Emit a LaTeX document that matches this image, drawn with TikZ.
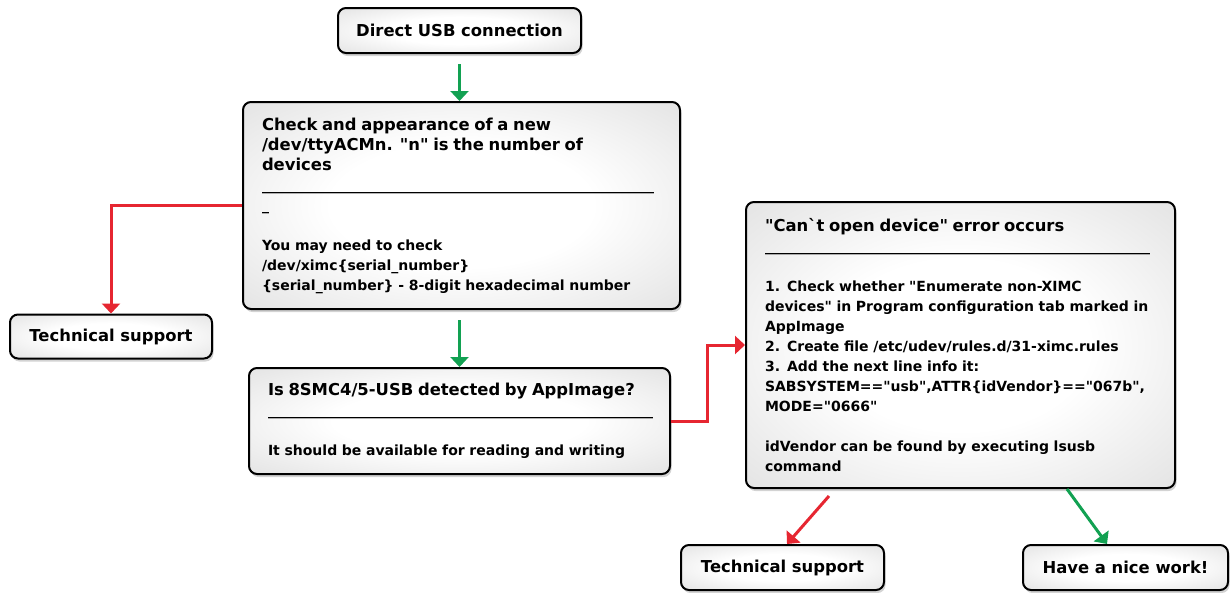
\documentclass[tikz,border=0pt]{standalone}
\usepackage{fontspec}
\setmonofont{DejaVu Sans}
\usepackage{tikz}
\usetikzlibrary{positioning,arrows.meta,shadows,calc}
\definecolor{noarr}{HTML}{E62631}
\definecolor{yesarr}{HTML}{12A152}
\pgfdeclareradialshading{boxshade}{\pgfpointorigin}{color(0bp)=(white); color(15bp)=(white); color(40bp)=(black!13); color(80bp)=(black!15)}
\newcommand{\headfont}{\fontsize{16.4}{20}\selectfont}
\newcommand{\bodyfont}{\fontsize{14}{20}\selectfont}
\newcommand{\hrline}[1]{\foreach \k in {1,...,#1}{\_}}

\begin{document}
\begin{tikzpicture}[x=1pt, y=1pt,
  box/.style={draw=black, line width=2pt, rounded corners=8pt, shading=boxshade,
              drop shadow={shadow xshift=1.5pt, shadow yshift=-3pt, opacity=0.35},
              font=\ttfamily\bodyfont\bfseries, inner sep=0pt},
  smallbox/.style={box, align=center, minimum height=44pt, font=\ttfamily\headfont\bfseries},
  textbox/.style={box, align=left, inner xsep=19pt},
  arr/.style={-{Triangle[length=10pt, width=18pt]}, line width=3pt},
  noline/.style={arr, draw=noarr},
  yesline/.style={arr, draw=yesarr}]
\useasboundingbox (0,0) rectangle (1231,-592);
\node[smallbox, minimum width=243pt, minimum height=45pt] (usb) at (459.5,-30.5) {Direct USB connection};
\node[textbox, text width=399pt, minimum height=207pt, below=47pt of usb, xshift=2pt] (check)
  {\headfont Check and appearance of a new\\/dev/ttyACMn. "n" is the number of\\devices\\\bodyfont\hrline{56}\\\_\\[20pt]You may need to check\\/dev/ximc\{serial\_number\}\\\{serial\_number\} - 8-digit hexadecimal number};
\node[textbox, text width=383pt, minimum height=106pt, below=57pt of check, xshift=-2pt] (detect)
  {\headfont Is 8SMC4/5-USB detected by AppImage?\\\bodyfont\hrline{55}\\[20pt]It should be available for reading and writing};
\node[smallbox, minimum width=202pt] (supl) at (111,-336.5) {Technical support};
\node[textbox, text width=391pt, minimum height=286pt] (cant) at (960.5,-345)
  {\headfont "Can`t open device" error occurs\\\bodyfont\hrline{55}\\[20pt]1. Check whether "Enumerate non-XIMC\\devices" in Program configuration tab marked in\\AppImage\\2. Create file /etc/udev/rules.d/31-ximc.rules\\3. Add the next line info it:\\SABSYSTEM=="usb",ATTR\{idVendor\}=="067b",\\MODE="0666"\\[20pt]idVendor can be found by executing lsusb\\command};
\node[smallbox, minimum width=203pt, minimum height=45pt] (supr) at (782.5,-567.5) {Technical support};
\node[smallbox, minimum width=205pt, minimum height=45pt] (nice) at (1125.5,-567.5) {Have a nice work!};
\draw[yesline, shorten <=10pt] (usb) -- (usb |- check.north);
\draw[yesline, shorten <=10pt] (check.south -| detect.north) -- (detect.north);
\draw[noline] (check.west) -| (supl.north);
\draw[noline] (detect.east) -- ++(36,0) |- (cant.west);
\draw[noline] ([xshift=84pt, yshift=-7pt]cant.south west) -- ([xshift=4.5pt]supr.north);
\draw[yesline] ([xshift=322pt]cant.south west) -- ([xshift=-18.5pt]nice.north);
\end{tikzpicture}
\end{document}
